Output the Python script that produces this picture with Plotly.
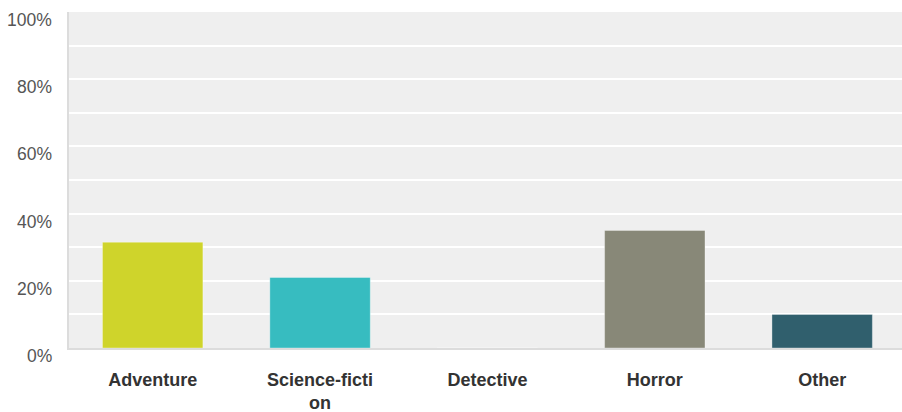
import plotly.graph_objects as go

categories = ["Adventure", "Science-fiction", "Detective", "Horror", "Other"]
tick_text = ["Adventure", "Science-ficti<br>on", "Detective", "Horror", "Other"]
values = [31.5, 21.0, 0.0, 35.0, 10.0]
colors = ["#cfd42b", "#37bcc0", "#8a8a7a", "#888878", "#305f6d"]
y_ticks = [0, 20, 40, 60, 80, 100]
y_tick_text = ["0%", "20%", "40%", "60%", "80%", "100%"]

fig = go.Figure()
fig.add_trace(go.Bar(
    x=list(range(len(categories))),
    y=values,
    marker=dict(color=colors, line=dict(color="rgba(255,255,255,0.35)", width=1)),
    width=0.6,
    hovertext=categories,
))

annotations = []
for v, t in zip(y_ticks, y_tick_text):
    annotations.append(dict(
        x=0, xref="paper", y=v, yref="y", text=t, showarrow=False,
        xanchor="right", yanchor="middle", xshift=-15, yshift=-8,
        font=dict(family="Liberation Sans, Arial, sans-serif", size=17.5, color="#555555"),
    ))

fig.update_layout(
    width=902, height=412, autosize=False,
    margin=dict(l=69, r=0, t=12, b=64),
    plot_bgcolor="#efefef", paper_bgcolor="#ffffff",
    showlegend=False,
    annotations=annotations,
    xaxis=dict(
        range=[-0.5, 4.477],
        tickmode="array",
        tickvals=list(range(len(categories))),
        ticktext=["<b>" + t + "</b>" for t in tick_text],
        tickfont=dict(family="Liberation Sans, Arial, sans-serif", size=18, color="#333333"),
        showgrid=False, zeroline=False,
        showline=True, linecolor="#dcdcdc", linewidth=2,
        ticks="", ticklabelstandoff=14,
        automargin=False,
    ),
    yaxis=dict(
        range=[0, 100],
        tickmode="linear", tick0=0, dtick=10,
        showticklabels=False,
        showgrid=True, gridcolor="#ffffff", gridwidth=2,
        zeroline=False,
        showline=True, linecolor="#dcdcdc", linewidth=2,
        ticks="",
        automargin=False,
    ),
    bargap=0.4,
)

fig.write_html(
    "out.html",
    config={"displayModeBar": False},
    post_script="document.body.style.margin='0';document.body.style.overflow='hidden';",
)
